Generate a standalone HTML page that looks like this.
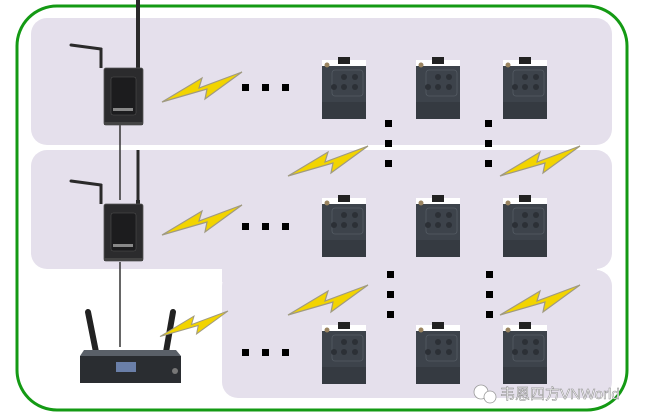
<!DOCTYPE html>
<html><head><meta charset="utf-8"><style>
html,body{margin:0;padding:0;background:#fff;}
svg{display:block}
</style></head><body>
<svg width="650" height="420" viewBox="0 0 650 420" xmlns="http://www.w3.org/2000/svg">
<defs>
<g id="bolt">
<polygon points="0,30 40,6 37,16 80,0 43,27 45,17" fill="#f2d400" stroke="#a09a80" stroke-width="1.2" stroke-linejoin="miter"/>
</g>
<g id="pack">
<rect x="0" y="6" width="44" height="56" rx="2" fill="#3d434b"/>
<rect x="0" y="3" width="44" height="6" fill="#fff"/>
<rect x="16" y="0" width="12" height="7" fill="#222"/>
<circle cx="5" cy="8" r="2.5" fill="#9a8460"/>
<rect x="0" y="45" width="44" height="17" fill="#353a41"/>
<rect x="10" y="13" width="31" height="26" rx="3" fill="none" stroke="#555c64" stroke-width="0.8"/>
<circle cx="22" cy="20" r="3" fill="#2c3036"/><circle cx="33" cy="20" r="3" fill="#2c3036"/>
<circle cx="12" cy="30" r="3" fill="#2c3036"/><circle cx="22" cy="30" r="3" fill="#2c3036"/><circle cx="33" cy="30" r="3" fill="#2c3036"/>
</g>
<g id="tx">
<line x1="-33" y1="-23" x2="-3" y2="-19" stroke="#2a2a2a" stroke-width="3" stroke-linecap="round"/>
<line x1="-3" y1="-20" x2="-3" y2="0" stroke="#2a2a2a" stroke-width="3"/>
<line x1="34" y1="-4" x2="34" y2="0" stroke="#2a2a2a" stroke-width="4"/>
<rect x="0" y="0" width="39" height="57" rx="2" fill="#2b2b2d" stroke="#555" stroke-width="0.8"/>
<rect x="7" y="9" width="25" height="38" rx="2" fill="#1c1c1e" stroke="#555" stroke-width="0.5"/>
<rect x="9" y="40" width="20" height="3" fill="#888"/>
<rect x="0" y="54" width="39" height="3" fill="#444"/>
</g>
</defs>
<rect x="17" y="6" width="610" height="404" rx="40" fill="none" stroke="#149a14" stroke-width="3"/>
<rect x="31" y="18" width="581" height="127" rx="16" fill="#e5e0ec"/>
<rect x="31" y="150" width="581" height="119" rx="16" fill="#e5e0ec"/>
<rect x="222" y="270" width="390" height="128" rx="16" fill="#e5e0ec"/>
<rect x="222" y="262" width="375" height="20" fill="#e5e0ec"/>
<!-- cables -->
<line x1="138" y1="0" x2="138" y2="70" stroke="#2a2a2a" stroke-width="4"/>
<line x1="120" y1="124" x2="120" y2="200" stroke="#333" stroke-width="1.5"/>
<line x1="120" y1="262" x2="120" y2="347" stroke="#333" stroke-width="1.5"/>
<line x1="138" y1="150" x2="138" y2="200" stroke="#2a2a2a" stroke-width="3"/>
<use href="#tx" x="104" y="68"/>
<use href="#tx" x="104" y="204"/>
<!-- receiver -->
<line x1="88" y1="312" x2="96" y2="352" stroke="#222" stroke-width="6" stroke-linecap="round"/>
<line x1="173" y1="312" x2="166" y2="352" stroke="#222" stroke-width="6" stroke-linecap="round"/>
<polygon points="84,350 176,350 181,356 80,356" fill="#5a6068"/>
<rect x="80" y="356" width="101" height="27" fill="#2a2d31"/>
<rect x="116" y="362" width="20" height="10" fill="#6a7fa8"/>
<circle cx="175" cy="371" r="3" fill="#777"/>
<!-- bolts -->
<use href="#bolt" x="162" y="72"/>
<use href="#bolt" x="162" y="205"/>
<use href="#bolt" x="288" y="146"/>
<use href="#bolt" x="500" y="146"/>
<use href="#bolt" x="288" y="285"/>
<use href="#bolt" x="500" y="285"/>
<use href="#bolt" transform="translate(160,311) scale(0.85)"/>
<!-- packs -->
<use href="#pack" x="322" y="57"/><use href="#pack" x="416" y="57"/><use href="#pack" x="503" y="57"/>
<use href="#pack" x="322" y="195"/><use href="#pack" x="416" y="195"/><use href="#pack" x="503" y="195"/>
<use href="#pack" x="322" y="322"/><use href="#pack" x="416" y="322"/><use href="#pack" x="503" y="322"/>
<!-- dots -->
<g fill="#000">
<rect x="242" y="84" width="7" height="7"/><rect x="262" y="84" width="7" height="7"/><rect x="282" y="84" width="7" height="7"/>
<rect x="242" y="223" width="7" height="7"/><rect x="262" y="223" width="7" height="7"/><rect x="282" y="223" width="7" height="7"/>
<rect x="242" y="349" width="7" height="7"/><rect x="262" y="349" width="7" height="7"/><rect x="282" y="349" width="7" height="7"/>
<rect x="385" y="120" width="7" height="7"/><rect x="385" y="140" width="7" height="7"/><rect x="385" y="160" width="7" height="7"/>
<rect x="485" y="120" width="7" height="7"/><rect x="485" y="140" width="7" height="7"/><rect x="485" y="160" width="7" height="7"/>
<rect x="387" y="271" width="7" height="7"/><rect x="387" y="291" width="7" height="7"/><rect x="387" y="311" width="7" height="7"/>
<rect x="486" y="271" width="7" height="7"/><rect x="486" y="291" width="7" height="7"/><rect x="486" y="311" width="7" height="7"/>
</g>
<!-- watermark -->
<circle cx="481" cy="392" r="7" fill="#fff" stroke="#999" stroke-width="0.8"/>
<circle cx="490" cy="397" r="6" fill="#fff" stroke="#999" stroke-width="0.8"/>
<text x="500" y="399" font-family="Liberation Sans, 'Noto Sans CJK SC', sans-serif" font-size="15" fill="#fff" stroke="#888" stroke-width="0.5">韦恩四方VNWorld</text>
</svg>
</body></html>
